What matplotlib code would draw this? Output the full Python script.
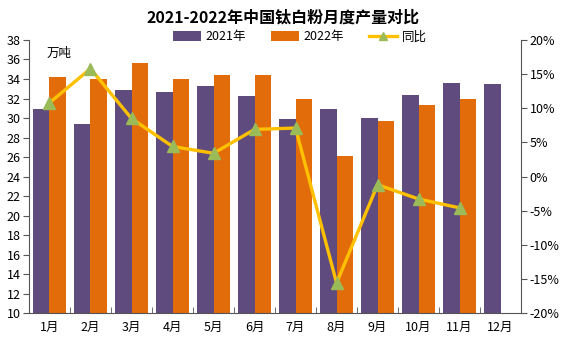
import matplotlib
matplotlib.use("Agg")
import matplotlib.pyplot as plt
import numpy as np
from matplotlib.ticker import FuncFormatter, FixedLocator

plt.rcParams['font.family'] = ['Noto Sans CJK SC', 'DejaVu Sans']

months = ["1月", "2月", "3月", "4月", "5月", "6月", "7月", "8月", "9月", "10月", "11月", "12月"]
y2021 = [30.9, 29.4, 32.9, 32.7, 33.3, 32.3, 29.9, 30.9, 30.0, 32.4, 33.6, 33.5]
y2022 = [34.2, 34.0, 35.6, 34.0, 34.4, 34.4, 32.0, 26.1, 29.7, 31.3, 32.0]
yoy = [10.8, 15.8, 8.5, 4.4, 3.4, 6.9, 7.1, -15.6, -1.2, -3.3, -4.6]

title = "2021-2022年中国钛白粉月度产量对比"
c21 = "#5F4B7D"
c22 = "#E36C0A"
cline = "#FFC000"
cmark = "#9BBB59"

fig = plt.figure(figsize=(5.67, 3.41), dpi=100)
ax = fig.add_axes([0.0511, 0.0821, 0.868, 0.8006])
x = np.arange(len(months))
w = 0.4
ax.bar(x - w / 2, y2021, width=w, color=c21, label="2021年", zorder=2)
ax.bar(np.arange(len(y2022)) + w / 2, y2022, width=w, color=c22, label="2022年", zorder=2)
ax.set_xlim(-0.5, 11.5)
ax.set_ylim(10, 38)
ax.set_yticks(np.arange(10, 39, 2))
ax.set_xticks(x)
ax.set_xticklabels(months, fontsize=9)
ax.xaxis.set_minor_locator(FixedLocator(np.arange(0.5, 11, 1)))
ax.tick_params(axis='x', which='major', length=0, pad=6)
ax.tick_params(axis='x', which='minor', direction='in', length=4, color='#555555')
ax.tick_params(axis='y', direction='out', length=4, color='#555555', labelsize=9, pad=2)
for s in ['top', 'right']:
    ax.spines[s].set_visible(False)
for s in ['left', 'bottom']:
    ax.spines[s].set_color('#555555')

ax2 = ax.twinx()
ln, = ax2.plot(np.arange(len(yoy)), yoy, color=cline, lw=2.4, marker='^', markersize=8,
               markerfacecolor=cmark, markeredgecolor=cmark, label="同比", zorder=3)
ax2.set_ylim(-20, 20)
ax2.set_yticks(np.arange(-20, 21, 5))
ax2.yaxis.set_major_formatter(FuncFormatter(lambda v, p: f"{int(v)}%"))
ax2.tick_params(axis='y', direction='out', length=4, color='#555555', labelsize=9, pad=2)
for s in ['top', 'left', 'bottom']:
    ax2.spines[s].set_visible(False)
ax2.spines['right'].set_color('#555555')

ax.text(0.035, 0.975, "万吨", transform=ax.transAxes, fontsize=9, va='top', ha='left')

h1, l1 = ax.get_legend_handles_labels()
leg = ax2.legend(h1 + [ln], l1 + ["同比"], loc='upper left',
                 bbox_to_anchor=((173 - 29) / 492, 1.035),
                 ncol=3, frameon=False, fontsize=9, handlelength=2.2, handleheight=0.8,
                 columnspacing=2.0, handletextpad=0.4, borderpad=0, borderaxespad=0,
                 markerscale=0.75)

fig.text(0.5, 0.948, title, fontsize=11.5, fontweight='bold', ha='center', va='center')
fig.savefig("out.png", dpi=100)
